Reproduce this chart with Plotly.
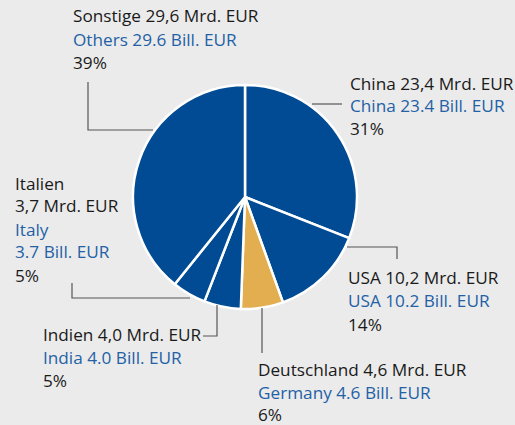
import plotly.graph_objects as go

W, H = 515, 425

categories_de = ["China", "USA", "Deutschland", "Indien", "Italien", "Sonstige"]
categories_en = ["China", "USA", "Germany", "India", "Italy", "Others"]
values_bn = [23.4, 10.2, 4.6, 4.0, 3.7, 29.6]
values_de_txt = ["23,4", "10,2", "4,6", "4,0", "3,7", "29,6"]
values_en_txt = ["23.4", "10.2", "4.6", "4.0", "3.7", "29.6"]
shares_pct = [31, 14, 6, 5, 5, 39]
colors = ["#004b93", "#004b93", "#e3ae50", "#004b93", "#004b93", "#004b93"]

BG = "#ebebeb"
TXT = "#1a1a1a"
BLUE_TXT = "#2361a6"
LINE = "#555555"
FONT = "Open Sans"
FS = 17.2


def px(x):
    return x / W


def py(y):
    return 1 - y / H


fig = go.Figure()
fig.add_trace(go.Pie(
    labels=categories_de,
    values=values_bn,
    sort=False,
    direction="clockwise",
    rotation=0,
    marker=dict(colors=colors, line=dict(color="white", width=2.5)),
    textinfo="none",
    hoverinfo="skip",
    showlegend=False,
    domain=dict(x=[px(133), px(357)], y=[py(309), py(85)]),
))

positions = {
    "China": (348, [83, 106, 129]),
    "USA": (346, [277, 300, 324]),
    "Deutschland": (256, [369, 392, 414]),
    "Indien": (41, [334, 357, 380]),
    "Sonstige": (71, [16, 39, 62]),
}

for i, de in enumerate(categories_de):
    l1 = f"{de} {values_de_txt[i]} Mrd. EUR"
    l2 = f"{categories_en[i]} {values_en_txt[i]} Bill. EUR"
    l3 = f"{shares_pct[i]}%"
    if de == "Italien":
        x0 = 13
        lines = [(de, TXT, 184), (f"{values_de_txt[i]} Mrd. EUR", TXT, 206),
                 (categories_en[i], BLUE_TXT, 229),
                 (f"{values_en_txt[i]} Bill. EUR", BLUE_TXT, 252),
                 (l3, TXT, 275)]
    else:
        x0, ys = positions[de]
        lines = [(l1, TXT, ys[0]), (l2, BLUE_TXT, ys[1]), (l3, TXT, ys[2])]
    for t, c, y in lines:
        fig.add_annotation(
            x=px(x0), y=py(y), xref="paper", yref="paper",
            text=t, showarrow=False, xanchor="left", yanchor="middle",
            font=dict(family=FONT, size=FS, color=c),
        )

# leader lines (pixel paths)
leaders = [
    [(312, 104), (342, 104)],                # China
    [(347, 247), (397, 247), (397, 259)],    # USA
    [(262, 308), (262, 353)],                # Deutschland
    [(203, 336), (217, 336), (217, 305)],    # Indien
    [(190, 298), (72, 298), (72, 283)],      # Italien
    [(153, 130), (88, 130), (88, 82)],       # Sonstige
]
for pts in leaders:
    path = "M " + " L ".join(f"{px(x)},{py(y)}" for x, y in pts)
    fig.add_shape(type="path", path=path, xref="paper", yref="paper",
                  line=dict(color=LINE, width=1.2))

fig.update_layout(
    width=W, height=H,
    margin=dict(l=0, r=0, t=0, b=0),
    paper_bgcolor=BG, plot_bgcolor=BG,
    font=dict(family=FONT, size=FS, color=TXT),
)

fig.write_html(
    "out.html",
    config={"displayModeBar": False},
    post_script="document.body.style.margin='0';document.body.style.overflow='hidden';",
)
